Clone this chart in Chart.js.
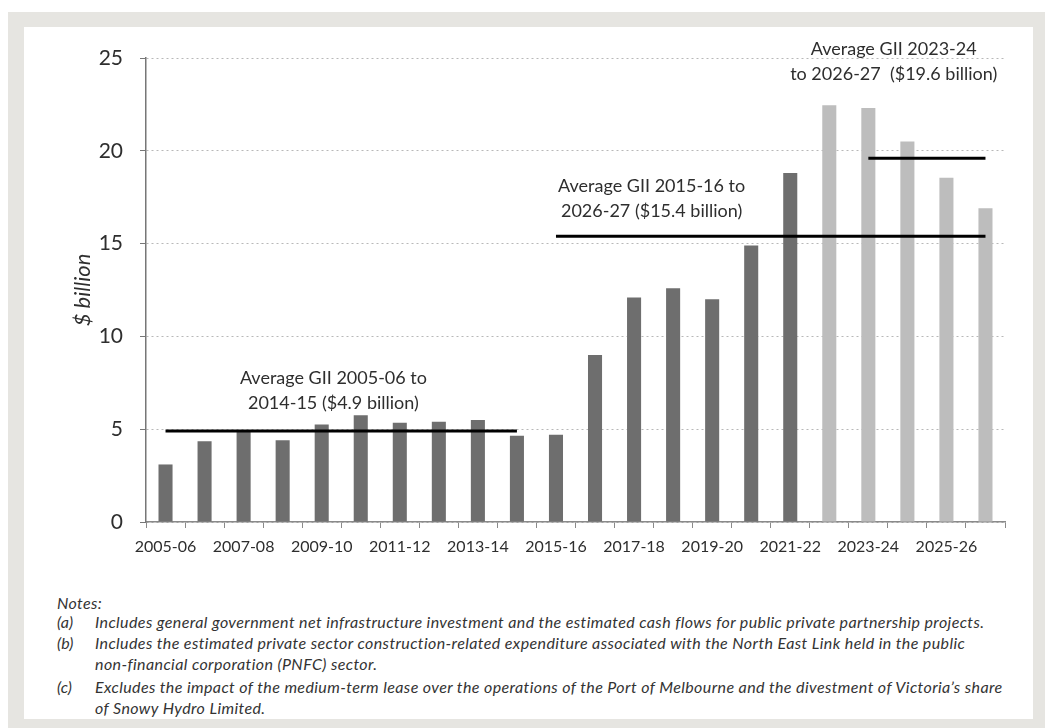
<!DOCTYPE html>
<html>
<head>
<meta charset="utf-8">
<script src="https://cdn.jsdelivr.net/npm/chart.js@4/dist/chart.umd.min.js"></script>
<style>
  html, body { margin: 0; padding: 0; background: #fff; }
  body { width: 1045px; height: 728px; position: relative; overflow: hidden; font-family: Lato, sans-serif; }
  #frame { position: absolute; left: 8px; top: 12px; width: 1037px; height: 716px; background: #e6e5e1; }
  #panel { position: absolute; left: 24px; top: 27px; width: 1009px; height: 692px; background: #fff; }
  #chart-box { position: absolute; left: 0; top: 0; width: 1009px; height: 560px; }
  .note { position: absolute; font-style: italic; font-size: 16px; letter-spacing: 0.4px; color: #333; white-space: nowrap; line-height: 18px; }
  .note .k { position: absolute; left: 0; letter-spacing: 0; }
  .note .t { position: absolute; left: 38px; }
</style>
</head>
<body>
<div id="frame"></div>
<div id="panel">
  <div id="chart-box"><canvas id="gii" width="1009" height="560"></canvas></div>
  <div class="note" style="left:33px;top:567px;">Notes:</div>
  <div class="note" style="left:33px;top:586px;"><span class="k">(a)</span><span class="t">Includes general government net infrastructure investment and the estimated cash flows for public private partnership projects.</span></div>
  <div class="note" style="left:33px;top:607px;"><span class="k">(b)</span><span class="t">Includes the estimated private sector construction-related expenditure associated with the North East Link held in the public</span></div>
  <div class="note" style="left:33px;top:628px;"><span class="t">non-financial corporation (PNFC) sector.</span></div>
  <div class="note" style="left:33px;top:651px;"><span class="k">(c)</span><span class="t">Excludes the impact of the medium-term lease over the operations of the Port of Melbourne and the divestment of Victoria’s share</span></div>
  <div class="note" style="left:33px;top:672px;"><span class="t">of Snowy Hydro Limited.</span></div>
</div>
<script>
/* Data */
const years = ['2005-06', '2006-07', '2007-08', '2008-09', '2009-10', '2010-11', '2011-12', '2012-13',
  '2013-14', '2014-15', '2015-16', '2016-17', '2017-18', '2018-19', '2019-20', '2020-21', '2021-22',
  '2022-23', '2023-24', '2024-25', '2025-26', '2026-27'];
const gii = [3.1, 4.35, 4.9, 4.4, 5.25, 5.75, 5.35, 5.4, 5.5, 4.65, 4.7, 9.0, 12.1, 12.6, 12.0, 14.9, 18.8,
  22.45, 22.3, 20.5, 18.55, 16.9];
const firstForecast = '2022-23';
const yTicks = [0, 5, 10, 15, 20, 25];

/* Averages: value, first and last year covered */
const avgEarly = { value: 4.9, from: '2005-06', to: '2014-15' };
const avgLong = { value: 15.4, from: '2015-16', to: '2026-27' };
const avgRecent = { value: 19.6, from: '2023-24', to: '2026-27' };

const notesAnnotations = [
  { lines: ['Average GII 2005-06 to', '2014-15 ($4.9 billion)'], at: 4.3, y: 7.75 },
  { lines: ['Average GII 2015-16 to', '2026-27 ($15.4 billion)'], at: 12.45, y: 18.1 },
  { lines: ['Average GII 2023-24', 'to 2026-27  ($19.6 billion)'], at: 18.65, y: 25.5 }
];

const avgSeries = a => years.map((y, i) =>
  i >= years.indexOf(a.from) && i <= years.indexOf(a.to) ? a.value : null);

const forecastIdx = years.indexOf(firstForecast);
const barColors = years.map((y, i) => i < forecastIdx ? '#6e6e6e' : '#bdbdbd');

const lineDs = a => ({
  type: 'line',
  data: avgSeries(a),
  borderColor: '#000',
  borderWidth: 3,
  pointRadius: 0,
  fill: false,
  spanGaps: false,
  order: 1
});

/* Text labels above the average lines */
const annotate = {
  id: 'annotate',
  afterDatasetsDraw(chart) {
    const { ctx, scales: { x, y } } = chart;
    const step = x.getPixelForValue(1) - x.getPixelForValue(0);
    ctx.save();
    ctx.font = '18px Lato';
    ctx.fillStyle = '#2e2e2e';
    ctx.textAlign = 'center';
    ctx.textBaseline = 'middle';
    notesAnnotations.forEach(n => {
      const px = x.getPixelForValue(0) + n.at * step;
      const py = y.getPixelForValue(n.y);
      n.lines.forEach((t, k) => ctx.fillText(t, px, py + k * 25));
    });
    ctx.restore();
  }
};

new Chart(document.getElementById('gii').getContext('2d'), {
  type: 'bar',
  data: {
    labels: years,
    datasets: [
      {
        data: gii,
        backgroundColor: barColors,
        barPercentage: 0.36,
        categoryPercentage: 1,
        order: 2
      },
      lineDs(avgEarly),
      lineDs(avgLong),
      lineDs(avgRecent)
    ]
  },
  options: {
    responsive: false,
    animation: false,
    events: [],
    layout: { padding: { top: 31, right: 28, left: 0, bottom: 0 } },
    plugins: { legend: { display: false }, tooltip: { enabled: false } },
    scales: {
      x: {
        afterFit: s => { s.height = 65; },
        grid: { offset: true, drawOnChartArea: false, tickLength: 6, color: '#8a8a8a' },
        border: { color: '#8a8a8a', width: 1.5 },
        ticks: {
          autoSkip: false,
          maxRotation: 0,
          padding: 9,
          color: '#2e2e2e',
          font: { family: 'Lato', size: 16 },
          callback: (v, i) => i % 2 === 0 ? years[i] : ''
        }
      },
      y: {
        min: 0,
        max: 25,
        afterFit: s => { s.width = 122; },
        afterBuildTicks: s => { s.ticks = yTicks.map(v => ({ value: v })); },
        grid: {
          color: '#b8b8b8',
          tickColor: '#777',
          tickLength: 6,
          tickBorderDash: []
        },
        border: { color: '#777', width: 1.5, dash: [2, 3] },
        ticks: { padding: 17, color: '#2e2e2e', font: { family: 'Lato', size: 21 } },
        title: {
          display: true,
          text: '$ billion',
          color: '#2e2e2e',
          padding: { top: 46 },
          font: { family: 'Lato', size: 22, style: 'italic' }
        }
      }
    }
  },
  plugins: [annotate]
});
</script>
</body>
</html>
